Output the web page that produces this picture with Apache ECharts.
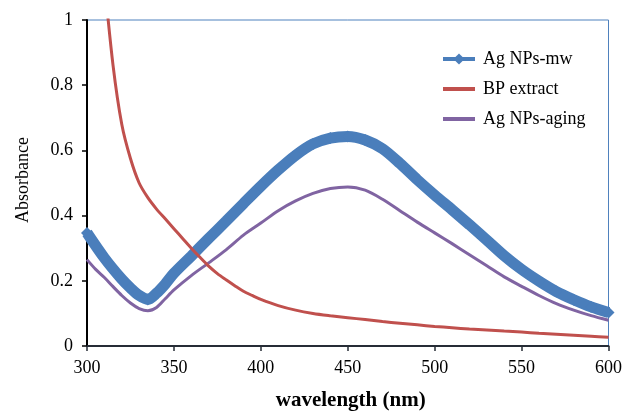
<!DOCTYPE html>
<html>
<head>
<meta charset="utf-8">
<script src="https://cdn.jsdelivr.net/npm/echarts@6/dist/echarts.min.js"></script>
<style>
  html, body { margin: 0; padding: 0; background: #fff; }
  #chart { width: 625px; height: 416px; }
</style>
</head>
<body>
<div id="chart"></div>
<script>
// Ag NPs-mw (吸收光谱)
const mwWl = [300, 310, 320, 325, 330, 335, 340, 345, 350, 360, 370, 380, 390, 400, 410, 420, 430, 440, 450, 460, 470, 480, 490, 500, 510, 520, 530, 540, 550, 560, 570, 580, 590, 600]
const mwAbs = [0.347, 0.27, 0.205, 0.178, 0.155, 0.143, 0.162, 0.19, 0.223, 0.276, 0.33, 0.383, 0.437, 0.49, 0.54, 0.585, 0.62, 0.638, 0.643, 0.632, 0.605, 0.56, 0.51, 0.463, 0.418, 0.372, 0.325, 0.277, 0.235, 0.199, 0.167, 0.142, 0.12, 0.103]

// BP extract
const bpWl = [310, 315, 320, 325, 330, 335, 340, 345, 350, 355, 360, 365, 370, 375, 380, 385, 390, 395, 400, 410, 420, 430, 440, 450, 460, 470, 480, 490, 500, 510, 520, 530, 540, 550, 560, 570, 580, 590, 600]
const bpAbs = [1.12, 0.86, 0.68, 0.575, 0.5, 0.455, 0.42, 0.39, 0.36, 0.33, 0.3, 0.272, 0.245, 0.222, 0.203, 0.185, 0.168, 0.155, 0.143, 0.124, 0.11, 0.1, 0.093, 0.087, 0.081, 0.075, 0.07, 0.065, 0.06, 0.056, 0.052, 0.049, 0.046, 0.043, 0.039, 0.036, 0.033, 0.03, 0.027]

// Ag NPs-aging
const agingWl = [300, 305, 310, 315, 320, 325, 330, 335, 340, 345, 350, 360, 370, 380, 390, 400, 410, 420, 430, 440, 450, 460, 470, 480, 490, 500, 510, 520, 530, 540, 550, 560, 570, 580, 590, 600]
const agingAbs = [0.265, 0.235, 0.21, 0.182, 0.155, 0.132, 0.115, 0.108, 0.118, 0.145, 0.172, 0.216, 0.255, 0.295, 0.34, 0.377, 0.415, 0.445, 0.468, 0.483, 0.488, 0.478, 0.45, 0.415, 0.38, 0.347, 0.314, 0.28, 0.246, 0.212, 0.183, 0.155, 0.13, 0.11, 0.093, 0.079]

// 坐标轴刻度
const xTicks = [300, 350, 400, 450, 500, 550, 600]
const yTicks = [0, 0.2, 0.4, 0.6, 0.8, 1]

const seriesNames = ['Ag NPs-mw', 'BP extract', 'Ag NPs-aging']

function pairs(xs, ys) {
  return xs.map((x, i) => [x, ys[i]])
}

const font = 'Liberation Serif'
const barIcon = 'path://M0,0 L32,0 L32,4 L0,4 Z'
const chart = echarts.init(document.getElementById('chart'))

let option = {
  backgroundColor: '#fff',
  animation: false,
  textStyle: { fontFamily: font, color: '#000' },
  grid: {
    left: 87,
    right: 14,
    top: 20,
    bottom: 67,
    show: true,
    borderColor: '#4f81bd',
    borderWidth: 1
  },
  legend: {
    orient: 'vertical',
    left: 436,
    top: 45,
    itemWidth: 32,
    itemHeight: 14,
    itemGap: 12,
    textStyle: { fontFamily: font, fontSize: 18, color: '#000', padding: [0, 0, 0, 3] },
    data: [
      { name: seriesNames[0], lineStyle: { width: 4 } },
      { name: seriesNames[1], icon: barIcon, itemStyle: { color: '#c0504d' } },
      { name: seriesNames[2], icon: barIcon, itemStyle: { color: '#8064a2' } }
    ]
  },
  xAxis: {
    type: 'value',
    min: xTicks[0],
    max: xTicks[xTicks.length - 1],
    interval: 50,
    name: 'wavelength (nm)',
    nameLocation: 'middle',
    nameGap: 44,
    nameTextStyle: { fontFamily: font, fontSize: 21, fontWeight: 'bold', color: '#000', padding: [0, 0, 0, 6] },
    axisLine: { lineStyle: { color: '#262c36', width: 2 } },
    axisTick: { show: true, inside: false, length: 5, lineStyle: { color: '#262c36', width: 1.5 } },
    axisLabel: { fontFamily: font, fontSize: 18, color: '#000', margin: 13 },
    splitLine: { show: false }
  },
  yAxis: {
    type: 'value',
    min: yTicks[0],
    max: yTicks[yTicks.length - 1],
    interval: 0.2,
    name: 'Absorbance',
    nameLocation: 'middle',
    nameGap: 55,
    nameTextStyle: { fontFamily: font, fontSize: 18, color: '#000', padding: [0, 0, 0, 6] },
    axisLine: { show: true, lineStyle: { color: '#000', width: 2 } },
    axisTick: { show: true, inside: false, length: 5, lineStyle: { color: '#000', width: 1.5 } },
    axisLabel: { fontFamily: font, fontSize: 18, color: '#000', margin: 14 },
    splitLine: { show: false }
  },
  series: [
    {
      name: seriesNames[0],
      type: 'line',
      data: pairs(mwWl, mwAbs),
      smooth: 0.3,
      symbol: 'diamond',
      symbolSize: 12,
      showSymbol: true,
      color: '#4a7ebb',
      lineStyle: { width: 11, color: '#4a7ebb' },
      itemStyle: { color: '#4a7ebb' },
      z: 3
    },
    {
      name: seriesNames[1],
      type: 'line',
      data: pairs(bpWl, bpAbs),
      smooth: 0.3,
      symbol: 'none',
      color: '#c0504d',
      lineStyle: { width: 3, color: '#c0504d' },
      z: 4
    },
    {
      name: seriesNames[2],
      type: 'line',
      data: pairs(agingWl, agingAbs),
      smooth: 0.3,
      symbol: 'none',
      color: '#8064a2',
      lineStyle: { width: 3, color: '#8064a2' },
      z: 2
    }
  ]
}

chart.setOption(option)
</script>
</body>
</html>
